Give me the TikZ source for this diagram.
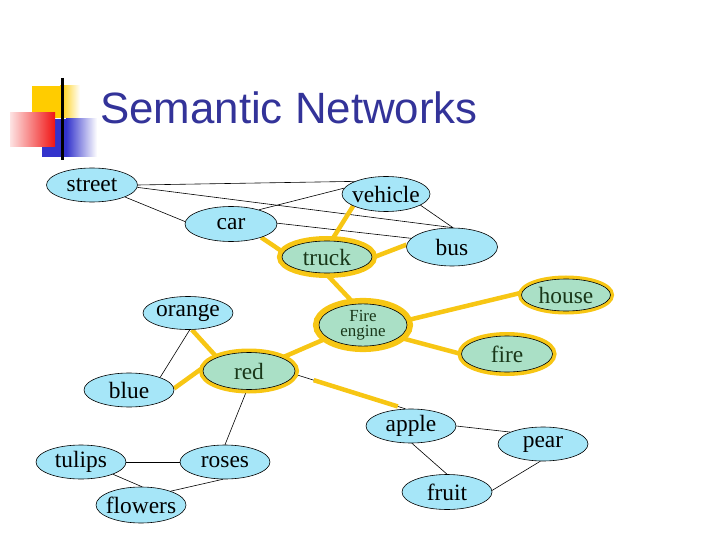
\documentclass[tikz,border=0pt]{standalone}
\usepackage{fontspec}
\setmainfont{Liberation Serif}
\newfontfamily\titlefont{Liberation Sans}
\usetikzlibrary{shapes.geometric,backgrounds}
\definecolor{gold}{RGB}{247,198,20}
\definecolor{nodeblue}{RGB}{166,230,248}
\definecolor{nodegreen}{RGB}{170,224,198}
\definecolor{hottext}{RGB}{25,55,25}
\definecolor{titleblue}{RGB}{51,51,153}
\definecolor{logoyellow}{RGB}{255,204,0}
\definecolor{logored}{RGB}{240,20,20}
\definecolor{logoblue}{RGB}{51,51,204}
\tikzset{
  concept/.style={ellipse, draw=black, line width=0.6bp, fill=nodeblue,
    inner xsep=-20bp, inner ysep=0bp, minimum width=90bp, minimum height=34bp,
    font=\fontsize{23.5}{25}\selectfont},
  hot/.style={concept, fill=nodegreen, text=hottext,
    preaction={draw=gold, line width=#1}},
  thinlink/.style={draw=black, line width=0.6bp},
  goldlink/.style={draw=gold, line width=4.5bp},
}
\begin{document}
\begin{tikzpicture}[x=1bp,y=-1bp]
\useasboundingbox (0,0) rectangle (720,540);
% logo
\fill[logoyellow] (32,86) rectangle (60,118);
\shade[left color=logoyellow, right color=white] (60,86) rectangle (80,118);
\fill[logoblue] (42,119) rectangle (66,157);
\shade[left color=logoblue, right color=white] (66,119) rectangle (97,157);
\shade[left color=logored!12, right color=logored] (10,113) rectangle (55,147);
\draw[line width=3bp] (62,78) -- (62,160);
% title
\node[anchor=base west, inner sep=0, text=titleblue,
      font=\titlefont\fontsize{44}{48}\selectfont] (title) at (100,124) {Semantic Networks};
% nodes
\node[concept, minimum width=91bp] (street) at (92,185) {street};
\node[concept, minimum width=88bp, minimum height=35bp] (vehicle) at (386,194) {vehicle};
\node[concept, minimum width=92bp, minimum height=35bp] (car) at (231,224) {car};
\node[hot=10bp, minimum width=90bp, minimum height=32bp] (truck) at (327,257) {truck};
\node[concept, minimum width=91bp, minimum height=38bp] (bus) at (452,247) {bus};
\node[concept, minimum height=33bp] (orange) at (188,313) {orange};
\node[hot=12bp, minimum width=88bp, minimum height=36bp, align=center,
      font=\fontsize{17}{15}\selectfont] (engine) at (363,325) {Fire\\engine};
\node[hot=7bp, minimum width=89bp, minimum height=32bp] (house) at (566,295) {house};
\node[hot=8bp, minimum width=91bp, minimum height=36bp] (fire) at (507,354) {fire};
\node[hot=8bp, minimum width=92bp, minimum height=37bp] (red) at (249,371) {red};
\node[concept] (blue) at (129,390) {blue};
\node[concept] (tulips) at (81,462) {tulips};
\node[concept] (roses) at (225,462) {roses};
\node[concept, minimum height=36bp] (flowers) at (141,505) {flowers};
\node[concept] (apple) at (411,426) {apple};
\node[concept] (pear) at (543,444) {pear};
\node[concept, minimum height=35bp] (fruit) at (447,492) {fruit};
% connectors
\begin{scope}[on background layer]
\draw[thinlink] (street.0) -- (vehicle.158);
\draw[thinlink] (street.-3) -- (bus.87);
\draw[thinlink] (street.-20) -- (car.177);
\draw[thinlink] (car.27) -- (vehicle.172);
\draw[thinlink] (car.1) -- (bus.168);
\draw[thinlink] (vehicle.-18) -- (bus.87);
\draw[thinlink] (vehicle.200) -- (truck.75);
\draw[thinlink] (truck.-95) -- (engine.112);
\draw[goldlink] (car.-24) -- (truck.174);
\draw[goldlink] (vehicle.200) -- (truck.75);
\draw[goldlink] (truck.-1) -- (bus.177);
\draw[goldlink] (truck.-95) -- (engine.112);
\draw[goldlink] (engine.6) -- (house.177);
\draw[goldlink] (engine.-19) -- (fire.180);
\draw[goldlink] (engine.200) -- (red.22);
\draw[goldlink] (orange.-77) -- (red.157);
\draw[goldlink] (blue.2) -- (red.175);
\draw[thinlink] (orange.-84) -- (blue.22);
\draw[thinlink] (red.-96) -- (roses.90);
\draw[thinlink] (red.-4) -- (apple.108);
\draw[goldlink, shorten <=20bp, shorten >=8bp] (red.-4) -- (apple.108);
\draw[thinlink] (tulips.0) -- (roses.180);
\draw[thinlink] (tulips.-21) -- (flowers.87);
\draw[thinlink] (roses.-97) -- (flowers.25);
\draw[thinlink] (apple.0) -- (pear.160);
\draw[thinlink] (apple.-87) -- (fruit.90);
\draw[thinlink] (pear.-99) -- (fruit.2);
\end{scope}
\end{tikzpicture}
\end{document}
